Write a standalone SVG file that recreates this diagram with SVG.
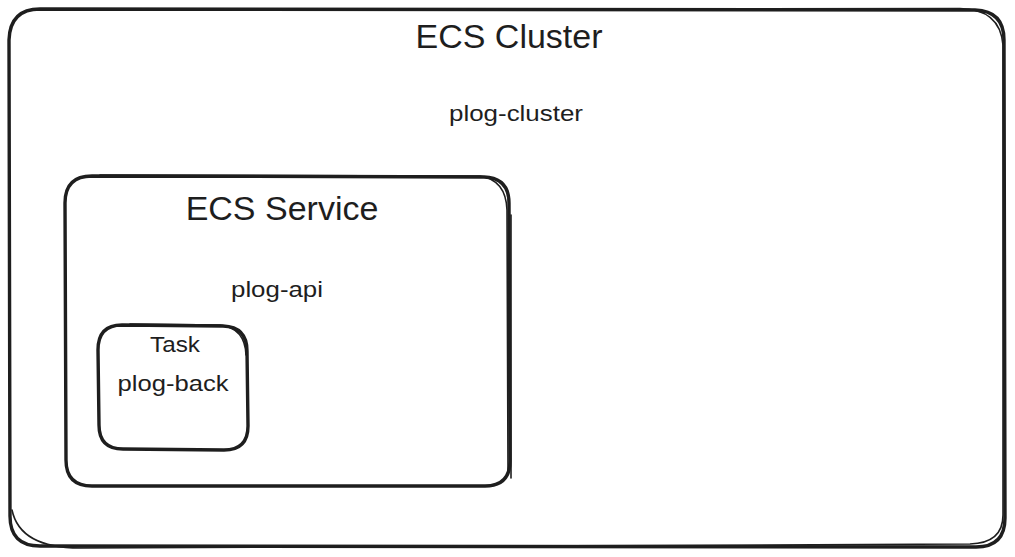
<svg xmlns="http://www.w3.org/2000/svg" width="1015" height="557" viewBox="0 0 1015 557">
<style>
.b{fill:none;stroke:#1e1e1e;stroke-width:3.4;stroke-linecap:round;stroke-linejoin:round}
.b2{fill:none;stroke:#1e1e1e;stroke-width:1.6;stroke-linecap:round}
text{font-family:"Liberation Sans",Arial,sans-serif;fill:#1e1e1e;text-anchor:middle}
.t1{font-size:34px}
.t2{font-size:22px}
</style>
<rect width="1015" height="557" fill="#ffffff"/>
<g id="cluster">
<path class="b" d="M40 9 L975 10 Q1004 11 1004 40 L1005 518 Q1005 547 976 547 L40 546 Q10 546 10 516 L9 40 Q10 9 40 9 Z"/>
<path class="b2" d="M55 9.5 L960 8.5 Q1000 9 1003 45 L1003 515 Q1003 543 970 544 L80 548 Q20 548 12 510"/>
<text class="t1" x="509" y="48">ECS Cluster</text>
<text class="t2" x="516" y="121" textLength="134" lengthAdjust="spacingAndGlyphs">plog-cluster</text>
</g>
<g id="service">
<path class="b" d="M92 176 L484 177 Q509 178 509 203 L510 461 Q510 486 485 486 L92 486 Q66 486 66 460 L65 203 Q65 176 92 176 Z"/>
<path class="b2" d="M100 175 L480 176 Q506 180 507 210 L508 470"/>
<path class="b2" d="M511 215 L511 478"/>
<text class="t1" x="282" y="220">ECS Service</text>
<text class="t2" x="277" y="297" textLength="92" lengthAdjust="spacingAndGlyphs">plog-api</text>
</g>
<g id="task">
<path class="b" d="M122 325 L223 326 Q247 327 247 351 L248 426 Q248 450 224 450 L123 449 Q99 449 99 425 L98 350 Q98 325 122 325 Z"/>
<path class="b2" d="M130 324 L220 325 Q245 328 246 355"/>
<text class="t2" x="175" y="352" textLength="50" lengthAdjust="spacingAndGlyphs">Task</text>
<text class="t2" x="173" y="391" textLength="111" lengthAdjust="spacingAndGlyphs">plog-back</text>
</g>
<g id="connectors"/>
</svg>
